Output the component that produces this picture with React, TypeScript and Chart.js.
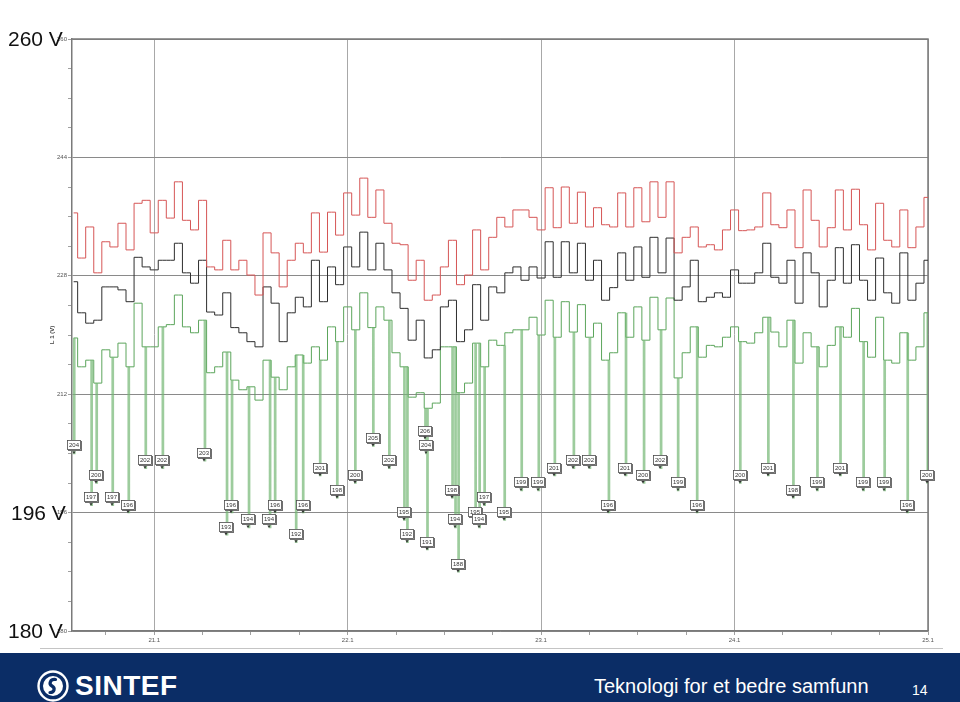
import React, { useEffect, useRef } from 'react';
import { Chart, registerables } from 'chart.js';

Chart.register(...registerables);

// hours counted from 20.1 00:00, one sample per hour starting at firstHour
const firstHour = 14;
const axisStartHour = 13.8;
const axisEndHour = 120;

const maxVoltage = [
  236.5, 230.4, 234.6, 228.4, 232.6, 231.9, 235.1, 231.5, 237.8, 238.2,
  233.8, 238.2, 235.8, 240.7, 235.5, 234.2, 238.2, 229.2, 228.8, 232.8,
  228.8, 230.1, 228.1, 225.4, 233.8, 231.1, 226.5, 230.1, 232.4, 231.1,
  236.5, 231.2, 236.6, 233.5, 239.2,
  236.2, 241.2, 235.9, 239.6, 235.1, 232.4, 232.2, 227.4, 230.1, 224.7,
  225.4, 229.2, 232.8, 226.8, 228.1, 234.2, 228.8, 233.2, 235.9, 234.6,
  236.9, 236.9, 235.9, 234.2, 239.9,
  234.5, 240.0, 235.1, 239.3, 234.6, 237.2, 234.9, 234.6, 239.2, 234.6,
  239.9, 235.3, 240.7, 235.9, 240.7, 231.1, 233.2, 234.6, 231.9, 232.2,
  231.5, 234.2, 236.9, 234.1,
  234.2, 234.6, 239.2, 234.9, 234.5, 236.9, 231.8, 239.6, 235.5, 231.9,
  234.5, 239.6, 234.2, 239.7, 234.9, 231.5, 237.8, 232.8, 231.9, 236.9,
  231.8, 234.6, 238.6,
];

const meanVoltage = [
  227.2, 223.0, 221.6, 222.0, 226.5, 226.5, 226.1, 224.5, 230.5, 229.2,
  228.8, 230.1, 230.1, 232.4, 228.4, 227.0, 230.1, 223.1, 222.7, 225.7,
  221.0, 220.3, 219.1, 218.4, 226.5, 224.3, 219.1, 223.0, 225.1, 223.8,
  230.1, 224.5, 229.2, 226.8, 231.9,
  229.2, 233.9, 228.8, 232.4, 228.8, 225.7, 223.6, 219.3, 222.0, 216.9,
  218.0, 223.8, 224.7, 219.1, 220.7, 226.8, 222.0, 226.5, 225.7, 228.4,
  229.2, 227.4, 229.2, 227.7, 232.6,
  227.8, 232.6, 228.4, 232.4, 227.4, 230.1, 224.7, 226.4, 231.1, 227.4,
  231.9, 227.8, 233.2, 228.4, 233.1, 224.7, 226.5, 230.1, 224.5, 225.1,
  225.7, 225.1, 228.8, 227.0,
  227.0, 228.4, 232.4, 227.8, 227.0, 230.1, 224.3, 231.1, 228.4, 223.8,
  227.4, 231.8, 227.0, 232.2, 227.4, 224.7, 230.4, 225.7, 224.3, 231.1,
  224.7, 227.0, 230.1,
];

const minVoltage = [
  219.6, 215.7, 216.6, 213.5, 218.0, 217.0, 218.9, 215.7, 224.3, 218.4,
  218.4, 221.1, 221.4, 225.4, 221.1, 220.3, 222.0, 214.9, 215.7, 217.7,
  213.9, 212.6, 213.0, 211.2, 216.6, 214.3, 212.6, 215.7, 217.3, 216.2,
  218.4, 216.6, 221.1, 219.1, 223.8,
  220.7, 225.7, 221.0, 223.8, 222.0, 217.6, 215.7, 211.6, 212.2, 210.1,
  210.8, 218.4, 218.4, 212.2, 213.5, 218.9, 215.7, 219.3, 218.6, 220.3,
  220.7, 220.7, 222.4, 220.0, 224.7,
  219.7, 224.5, 220.4, 224.1, 219.7, 221.6, 216.6, 217.6, 223.0, 219.7,
  223.8, 219.3, 225.1, 220.7, 225.0, 214.2, 217.6, 221.1, 217.0, 218.6,
  218.4, 219.7, 221.1, 219.1,
  218.9, 220.3, 222.4, 220.4, 218.4, 222.0, 216.2, 220.3, 218.4, 215.7,
  218.6, 221.1, 219.7, 223.6, 219.1, 217.0, 222.4, 216.6, 216.2, 220.3,
  216.6, 218.4, 223.0,
];

// short dips of the minimum voltage, with their labelled values
const spikeHours = [
  14.0, 16.16, 16.79, 18.78, 20.77, 22.88, 25.0, 30.22, 32.96, 33.58,
  35.69, 38.3, 38.93, 41.54, 42.41, 44.52, 46.64, 48.88, 51.11, 53.1,
  54.97, 55.34, 57.58, 57.71, 57.83, 60.94, 61.31, 61.69, 63.8, 64.3,
  64.92, 67.41, 69.52, 71.64, 73.63, 75.99, 77.98, 80.34, 82.46, 84.7,
  86.81, 88.93, 91.29, 96.64, 100.12, 103.23, 106.21, 109.07, 111.94, 114.55,
  117.41, 119.9,
];
const spikeMinima = [
  204, 197, 200, 197, 196, 202, 202, 203, 193, 196,
  194, 194, 196, 192, 196, 201, 198, 200, 205, 202,
  195, 192, 206, 204, 191, 198, 194, 188, 195, 194,
  197, 195, 199, 199, 201, 202, 202, 196, 201, 200,
  202, 199, 196, 200, 201, 198, 199, 201, 199, 199,
  196, 200,
];

const dayLabels = ['21.1', '22.1', '23.1', '24.1', '25.1'];
const yMin = 180;
const yMax = 260;
const yMajorStep = 16;
const yMinorStep = 4;
const xMinorStep = 6;
const bigLabels = ['260 V', '196 V', '180 V'];
const bigLabelValues = [260, 196, 180];

const FONT = '"Liberation Sans", Arial, sans-serif';

export default function App() {
  const canvasRef = useRef<HTMLCanvasElement>(null);

  useEffect(() => {
    if (!canvasRef.current) return;
    const hours = maxVoltage.map((_, i) => firstHour + i);
    const toPts = (arr: number[]) => arr.map((v, i) => ({ x: hours[i], y: v }));
    const baseAt = (t: number) => {
      const i = Math.min(minVoltage.length - 1, Math.max(0, Math.round(t - firstHour)));
      return minVoltage[i];
    };
    const spikePts: { x: number; y: number | null }[] = [];
    spikeHours.forEach((t, k) => {
      const b = baseAt(t);
      const v = spikeMinima[k];
      spikePts.push({ x: t, y: b }, { x: t, y: v }, { x: t + 0.15, y: v }, { x: t + 0.15, y: b }, { x: t + 0.15, y: null });
    });

    const labelPlugin = {
      id: 'minLabels',
      afterDatasetsDraw(chart: any) {
        const { ctx } = chart;
        const xs = chart.scales.x;
        const ys = chart.scales.y;
        ctx.save();
        spikeHours.forEach((t, k) => {
          const px = Math.round(xs.getPixelForValue(t));
          const py = ys.getPixelForValue(spikeMinima[k]);
          const w = 14;
          const h = 10;
          const bx = px - w / 2;
          const by = Math.round(py - 13);
          ctx.fillStyle = '#6f6f6f';
          ctx.fillRect(bx + 1, by + 1, w, h);
          ctx.fillStyle = '#ffffff';
          ctx.fillRect(bx, by, w, h);
          ctx.strokeStyle = '#4a4a4a';
          ctx.lineWidth = 0.8;
          ctx.strokeRect(bx + 0.5, by + 0.5, w - 1, h - 1);
          ctx.fillStyle = '#333';
          ctx.font = '6px ' + FONT;
          ctx.textAlign = 'center';
          ctx.textBaseline = 'middle';
          ctx.fillText(String(spikeMinima[k]), px, by + h / 2 + 0.5);
          ctx.beginPath();
          ctx.moveTo(px - 1.6, py - 2);
          ctx.lineTo(px + 1.6, py - 2);
          ctx.lineTo(px, py + 0.6);
          ctx.closePath();
          ctx.fill();
        });
        ctx.restore();
      },
    };

    const framePlugin = {
      id: 'frame',
      beforeDatasetsDraw(chart: any) {
        const { ctx, chartArea: a } = chart;
        ctx.save();
        ctx.strokeStyle = '#7a7a7a';
        ctx.lineWidth = 1.5;
        ctx.beginPath();
        ctx.moveTo(a.left, a.top);
        ctx.lineTo(a.right, a.top);
        ctx.lineTo(a.right, a.bottom);
        ctx.stroke();
        ctx.translate(52, (a.top + a.bottom) / 2);
        ctx.rotate(-Math.PI / 2);
        ctx.fillStyle = '#444';
        ctx.font = 'bold 6px ' + FONT;
        ctx.textAlign = 'center';
        ctx.textBaseline = 'middle';
        ctx.fillText('L 1 (V)', 0, 0);
        ctx.restore();
      },
    };

    const xTicks: number[] = [];
    for (let v = 18; v <= axisEndHour; v += xMinorStep) xTicks.push(v);
    const yTicks: number[] = [];
    for (let v = yMin; v <= yMax; v += yMinorStep) yTicks.push(v);

    const chart = new Chart(canvasRef.current, {
      type: 'line',
      data: {
        datasets: [
          {
            label: 'Max',
            data: toPts(maxVoltage),
            borderColor: 'rgb(214,86,86)',
            borderWidth: 1,
            pointRadius: 0,
            stepped: 'middle',
            fill: false,
          },
          {
            label: 'Mean',
            data: toPts(meanVoltage),
            borderColor: '#2e2e2e',
            borderWidth: 1,
            pointRadius: 0,
            stepped: 'middle',
            fill: false,
          },
          {
            label: 'Min dips',
            data: spikePts,
            borderColor: 'rgba(115,182,115,0.7)',
            borderWidth: 1.5,
            pointRadius: 0,
            spanGaps: false,
            fill: false,
          },
          {
            label: 'Min',
            data: toPts(minVoltage),
            borderColor: 'rgb(92,165,92)',
            borderWidth: 1,
            pointRadius: 0,
            stepped: 'middle',
            fill: false,
          },
        ],
      },
      options: {
        animation: false,
        responsive: true,
        maintainAspectRatio: false,
        layout: { padding: { left: 0, top: 39, right: 32, bottom: 5 } },
        plugins: { legend: { display: false }, tooltip: { enabled: false } },
        scales: {
          x: {
            type: 'linear',
            min: axisStartHour,
            max: axisEndHour,
            afterBuildTicks: (s: any) => {
              s.ticks = xTicks.map((v) => ({ value: v }));
            },
            afterFit: (s: any) => {
              s.height = 14;
            },
            border: { color: '#7a7a7a', width: 1.5 },
            grid: {
              color: (c: any) => (c.tick && c.tick.value % 24 === 0 ? '#a8a8a8' : 'rgba(0,0,0,0)'),
              tickColor: '#a0a0a0',
              tickLength: 4,
              lineWidth: 1,
            },
            ticks: {
              autoSkip: false,
              maxRotation: 0,
              padding: 2,
              color: '#555',
              font: { size: 6, family: FONT },
              callback: (v: any) => (Number(v) % 24 === 0 ? dayLabels[Number(v) / 24 - 1] : ''),
            },
          },
          y: {
            min: yMin,
            max: yMax,
            afterBuildTicks: (s: any) => {
              s.ticks = yTicks.map((v) => ({ value: v }));
            },
            afterFit: (s: any) => {
              s.width = 72;
            },
            border: { color: '#7a7a7a', width: 1.5 },
            grid: {
              color: (c: any) => (c.tick && (c.tick.value - yMin) % yMajorStep === 0 ? '#8a8a8a' : 'rgba(0,0,0,0)'),
              tickColor: '#a0a0a0',
              tickLength: 4,
              lineWidth: 1,
            },
            ticks: {
              autoSkip: false,
              padding: 1,
              color: '#555',
              font: { size: 6, family: FONT },
              callback: (v: any) => ((Number(v) - yMin) % yMajorStep === 0 ? String(v) : ''),
            },
          },
        },
      },
      plugins: [framePlugin, labelPlugin],
    });
    return () => chart.destroy();
  }, []);

  const yPix = (v: number) => 631 - ((v - yMin) / (yMax - yMin)) * 592;

  return (
    <div style={{ position: 'absolute', left: 0, top: 0, width: 960, height: 702, background: '#fff', overflow: 'hidden', fontFamily: FONT }}>
      <div style={{ position: 'absolute', left: 0, top: 0, width: 960, height: 650 }}>
        <canvas ref={canvasRef} />
      </div>
      {bigLabels.map((t, i) => (
        <div
          key={t}
          style={{
            position: 'absolute',
            left: i === 1 ? 11 : 8,
            top: yPix(bigLabelValues[i]) - 14,
            fontSize: 21,
            lineHeight: '28px',
            color: '#111',
            whiteSpace: 'nowrap',
          }}
        >
          {t}
        </div>
      ))}
      <div style={{ position: 'absolute', left: 40, top: 648, width: 903, height: 1, background: '#c4c4c4' }} />
      <div style={{ position: 'absolute', left: 0, top: 653, width: 960, height: 49, background: '#0b2d66' }}>
        <svg width="34" height="34" viewBox="0 0 34 34" style={{ position: 'absolute', left: 36, top: 16 }}>
          <circle cx="17" cy="17" r="14.5" fill="none" stroke="#fff" strokeWidth="2.4" />
          <circle cx="17" cy="17" r="10" fill="#fff" />
          <path d="M19.5 10.5 C14 10, 12.5 15, 16 17 C19.5 19, 18.5 23.5, 14 23.5" fill="none" stroke="#0b2d66" strokeWidth="3.2" strokeLinecap="round" />
        </svg>
        <div style={{ position: 'absolute', left: 75, top: 17, fontSize: 28, fontWeight: 'bold', color: '#fff', lineHeight: '32px', letterSpacing: 0.5 }}>SINTEF</div>
        <div style={{ position: 'absolute', left: 594, top: 20, fontSize: 20, color: '#fff', lineHeight: '26px', whiteSpace: 'nowrap' }}>Teknologi for et bedre samfunn</div>
        <div style={{ position: 'absolute', left: 912, top: 27, fontSize: 14, color: '#fff', lineHeight: '20px' }}>14</div>
      </div>
    </div>
  );
}
